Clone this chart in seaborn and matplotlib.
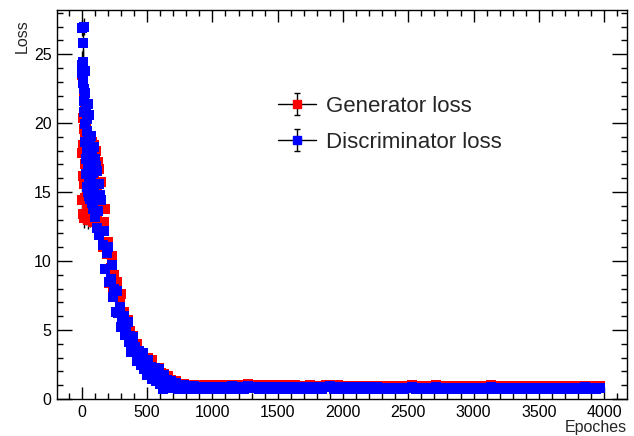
import numpy as np
import pandas as pd
import matplotlib
matplotlib.use("Agg")
import matplotlib.pyplot as plt
from matplotlib.ticker import MultipleLocator
import seaborn as sns

# ---------------- data ----------------
epochs_a1 = np.arange(0, 61, 2)
epochs_a2 = np.arange(64, 137, 4)
epochs_b1 = np.arange(150, 701, 10)
epochs_b2 = np.arange(720, 1001, 20)
epochs_c = np.arange(1030, 3971, 30)

disc_a1 = [26.9, 24.2, 23.6, 24.4, 22.9, 25.8, 23.1, 21.6, 22.5, 27.0,
           20.8, 23.8, 19.9, 18.6, 22.2, 17.4, 21.0, 16.3, 19.4, 15.4,
           20.3, 17.9, 15.0, 18.8, 16.8, 21.4, 14.7, 19.0, 16.0, 20.6, 14.5]
disc_err_a1 = [0.6, 1.0, 1.0, 1.0, 0.9, 1.1, 0.9, 0.9, 0.9, 0.6,
               0.8, 0.9, 0.8, 0.8, 0.9, 0.7, 0.8, 0.7, 0.8, 0.7,
               0.8, 0.7, 0.7, 0.8, 0.7, 0.8, 0.7, 0.8, 0.7, 0.8, 0.7]
disc_a2 = [18.9, 15.8, 19.1, 14.2, 17.6, 16.4, 13.8, 18.3, 15.1, 17.4,
           13.2, 16.9, 14.5, 12.4, 16.5, 13.6, 15.6, 11.9, 14.8]
gen_a1 = [14.4, 23.5, 17.8, 16.2, 20.4, 18.4, 13.4, 22.1, 15.6, 19.6,
          13.1, 17.0, 21.2, 14.6, 18.9, 13.3, 16.6, 20.0, 14.0, 17.6,
          15.1, 19.2, 13.0, 16.0, 18.4, 14.2, 17.3, 13.6, 15.4, 18.0, 13.2]
gen_err_a1 = [0.9, 1.0, 0.9, 0.8, 0.9, 0.9, 0.7, 1.0, 0.8, 0.9,
              0.7, 0.8, 0.9, 0.7, 0.9, 0.7, 0.8, 0.9, 0.7, 0.8,
              0.7, 0.9, 0.7, 0.8, 0.9, 0.7, 0.8, 0.7, 0.8, 0.8, 0.7]
gen_a2 = [17.9, 13.0, 16.8, 18.6, 14.4, 17.4, 12.8, 16.0, 18.4, 14.9,
          17.0, 13.5, 18.0, 15.2, 12.9, 17.2, 14.1, 16.7, 12.6]

disc_b1 = [14.4, 11.2, 12.2, 9.4, 10.6, 11.0, 8.5, 8.7, 9.7, 7.4,
           8.0, 6.3, 7.8, 6.2, 6.7, 5.2, 5.8, 6.0, 4.65, 4.85,
           5.55, 4.1, 4.55, 3.4, 4.5, 3.4, 3.75, 2.75, 3.25, 3.5,
           2.48, 2.67, 3.32, 2.2, 2.66, 1.75, 2.84, 1.93, 2.35, 1.46,
           1.99, 2.26, 1.29, 1.5, 2.18, 1.1, 1.58, 0.76, 1.75, 1.02,
           1.35, 0.77, 1.14, 1.32, 0.82, 0.96]
disc_b2 = [1.16, 0.76, 0.95, 0.99, 0.73, 0.90, 0.71, 0.92, 0.76, 0.89,
           0.71, 0.88, 0.90, 0.72, 0.86]
gen_b1 = [15.7, 11.0, 12.8, 13.8, 10.5, 11.4, 8.4, 9.5, 10.4, 8.0,
          9.0, 7.7, 8.5, 6.2, 7.05, 7.6, 5.9, 6.3, 4.7, 5.3,
          5.7, 4.4, 4.9, 4.25, 4.55, 3.4, 3.8, 4.0, 3.2, 3.5,
          2.58, 2.98, 3.35, 2.48, 3.0, 2.52, 2.96, 1.92, 2.42, 2.8,
          1.91, 2.26, 1.3, 1.8, 2.24, 1.3, 1.89, 1.42, 1.84, 0.94,
          1.4, 1.7, 1.11, 1.37, 0.84, 1.13]
gen_b2 = [1.28, 0.90, 1.12, 1.09, 0.86, 1.02, 0.88, 0.99, 0.87, 0.98,
          0.86, 0.97, 0.99, 0.85, 0.96]

disc_c = [0.90, 0.71, 0.89, 0.72, 0.91, 0.70, 0.88, 0.73, 0.95, 0.78,
          0.90, 0.70, 0.89, 0.72, 0.88, 0.71, 0.90, 0.70, 0.89, 0.72,
          0.88, 0.71, 0.87, 0.70, 0.88, 0.72, 0.87, 0.71, 0.89, 0.94,
          0.76, 0.88, 0.70, 0.86, 0.72, 0.87, 0.70, 0.86, 0.71, 0.85,
          0.70, 0.85, 0.71, 0.83, 0.70, 0.82, 0.70, 0.82, 0.71, 0.83,
          0.87, 0.73, 0.81, 0.70, 0.81, 0.71, 0.87, 0.74, 0.80, 0.70,
          0.80, 0.71, 0.79, 0.70, 0.80, 0.71, 0.79, 0.70, 0.80, 0.71,
          0.85, 0.73, 0.79, 0.70, 0.78, 0.71, 0.78, 0.70, 0.78, 0.71,
          0.77, 0.70, 0.78, 0.71, 0.77, 0.70, 0.77, 0.71, 0.77, 0.70,
          0.77, 0.71, 0.78, 0.72, 0.84, 0.75, 0.79, 0.71, 0.77]
gen_c = [1.00, 0.86, 0.99, 0.87, 1.01, 0.85, 0.98, 0.88, 1.06, 0.92,
         1.00, 0.85, 0.99, 0.87, 0.98, 0.86, 1.00, 0.85, 0.99, 0.87,
         0.98, 0.86, 0.97, 0.85, 0.98, 0.87, 0.97, 0.86, 0.99, 1.05,
         0.90, 0.98, 0.85, 0.96, 0.87, 0.97, 0.85, 0.96, 0.86, 0.95,
         0.85, 0.95, 0.86, 0.94, 0.85, 0.93, 0.84, 0.93, 0.85, 0.94,
         0.99, 0.87, 0.93, 0.84, 0.93, 0.85, 0.99, 0.88, 0.93, 0.84,
         0.92, 0.85, 0.92, 0.84, 0.93, 0.85, 0.92, 0.84, 0.93, 0.85,
         0.98, 0.87, 0.92, 0.84, 0.92, 0.85, 0.91, 0.84, 0.92, 0.85,
         0.91, 0.84, 0.92, 0.85, 0.91, 0.84, 0.91, 0.85, 0.91, 0.84,
         0.91, 0.85, 0.92, 0.86, 0.97, 0.88, 0.93, 0.85, 0.92]

series_names = ["Generator loss", "Discriminator loss"]
series_colors = ["#ff0000", "#0000ff"]
x_ticks = [0, 500, 1000, 1500, 2000, 2500, 3000, 3500, 4000]
y_ticks = [0, 5, 10, 15, 20, 25]

# ---------------- build table ----------------
epochs = np.concatenate([epochs_a1, epochs_a2, epochs_b1, epochs_b2, epochs_c])
gen = gen_a1 + gen_a2 + gen_b1 + gen_b2 + gen_c
disc = disc_a1 + disc_a2 + disc_b1 + disc_b2 + disc_c
df = pd.DataFrame({
    "epoch": np.concatenate([epochs, epochs]),
    "loss": gen + disc,
    "series": [series_names[0]] * len(epochs) + [series_names[1]] * len(epochs),
})

# ---------------- style ----------------
sns.set_style("ticks")
plt.rcParams["font.family"] = ["Liberation Sans", "DejaVu Sans"]

W, H = 634, 436
fig = plt.figure(figsize=(W / 100, H / 100), dpi=100)
ax = fig.add_axes([57 / W, (H - 399) / H, (627 - 57) / W, (399 - 10) / H])

msize = 44
# generator (red): error bars then markers
ax.errorbar(epochs_a1, gen_a1, yerr=gen_err_a1, fmt="none", ecolor="black",
            elinewidth=1.0, capsize=0, zorder=1)
sns.scatterplot(data=df[df.series == series_names[0]], x="epoch", y="loss",
                color=series_colors[0], marker="s", s=msize, linewidth=0,
                ax=ax, zorder=2, legend=False)
# discriminator (blue)
ax.errorbar(epochs_a1, disc_a1, yerr=disc_err_a1, fmt="none", ecolor="black",
            elinewidth=1.0, capsize=0, zorder=3)
sns.scatterplot(data=df[df.series == series_names[1]], x="epoch", y="loss",
                color=series_colors[1], marker="s", s=msize, linewidth=0,
                ax=ax, zorder=4, legend=False)

ax.set_xlim(-190, 4175)
ax.set_ylim(0, 28.2)
ax.set_xticks(x_ticks)
ax.set_xticklabels([str(t) for t in x_ticks])
ax.set_yticks(y_ticks)
ax.set_yticklabels([str(t) for t in y_ticks])
ax.xaxis.set_minor_locator(MultipleLocator(100))
ax.yaxis.set_minor_locator(MultipleLocator(1))
ax.tick_params(which="both", direction="in", top=True, right=True,
               width=1.0, color="black", labelsize=11.5, labelcolor="black")
ax.tick_params(axis="x", which="major", length=8.5, pad=4)
ax.tick_params(axis="y", which="major", length=10.5, pad=4)
ax.tick_params(which="minor", length=4.3)
for sp in ax.spines.values():
    sp.set_visible(True)
    sp.set_linewidth(1.0)
    sp.set_color("black")
ax.set_xlabel("")
ax.set_ylabel("")

fig.text(22 / W, 1 - 19 / H, "Loss", rotation=90, ha="center", va="top",
         fontsize=11.5)
fig.text(627 / W, 1 - 427 / H, "Epoches", ha="right", va="center",
         fontsize=11.5)

# legend proxies (line + marker + error bar)
handles = []
for name, col in zip(series_names, series_colors):
    h = ax.errorbar([np.nan], [np.nan], yerr=[1.0], fmt="s-", color="black",
                    mfc=col, mec=col, ms=6, lw=1.0, elinewidth=1.0,
                    capsize=2.3, label=name)
    handles.append(h)
ax.legend(handles=handles, labels=series_names, loc="upper left",
          bbox_to_anchor=(278 / W, 1 - 96 / H), bbox_transform=fig.transFigure,
          frameon=False, fontsize=16, handlelength=1.7, handletextpad=0.45,
          labelspacing=0.68, borderpad=0, borderaxespad=0)

fig.savefig("out.png", dpi=100)
